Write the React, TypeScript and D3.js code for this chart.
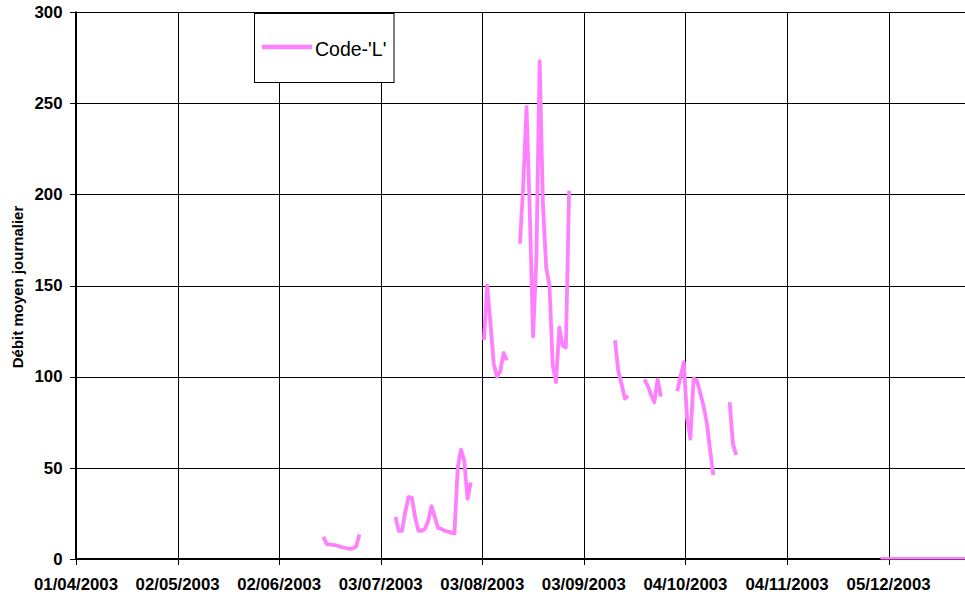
import React from "react";
import * as d3 from "d3";

// ---- Data (daily mean flow, Code-'L') ----
const segmentStarts = [
  "2003-06-15",
  "2003-07-07",
  "2003-08-03",
  "2003-08-14",
  "2003-09-12",
  "2003-09-21",
  "2003-10-01",
  "2003-10-17",
  "2003-12-02",
];
const segJune = [12.2, 8.2, 8, 7.8, 7.4, 6.8, 6.3, 5.9, 5.6, 5.8, 6.8, 13.5];
const segJuly = [23, 15.5, 15.5, 26, 34, 33.5, 23, 15.5, 15.5, 16.5, 21, 29, 23, 17, 16.5, 15.5, 15, 14.5, 14, 50, 60, 54, 33, 42];
const segAugEarly = [120, 150, 129, 107, 100, 103, 113, 109];
const segAugLate = [173, 205, 248, 190, 122, 165, 273, 195, 160, 150, 106, 97, 127, 117, 116, 202];
const segSepA = [120, 103, 96, 88, 89.5];
const segSepB = [98.5, 95, 90, 86, 98.5, 89];
const segOct = [92, 100, 108, 77, 66, 99, 98, 91, 84, 75, 60, 46];
const segOctLate = [86, 63, 57];
const segDec = [0.4, 0.4, 0.4, 0.4, 0.4, 0.4, 0.4, 0.4, 0.4, 0.4, 0.4, 0.4, 0.4, 0.4, 0.4, 0.4, 0.4, 0.4, 0.4, 0.4, 0.4, 0.4, 0.4, 0.4, 0.4, 0.4, 0.4, 0.4, 0.4, 0.4];
const segments = [segJune, segJuly, segAugEarly, segAugLate, segSepA, segSepB, segOct, segOctLate, segDec];

const xTickLabels = [
  "01/04/2003",
  "02/05/2003",
  "02/06/2003",
  "03/07/2003",
  "03/08/2003",
  "03/09/2003",
  "04/10/2003",
  "04/11/2003",
  "05/12/2003",
];
const yTicks = [0, 50, 100, 150, 200, 250, 300];
const seriesName = "Code-'L'";
const yTitle = "Débit moyen journalier";

const W = 965;
const H = 594;
const FONT = "'Liberation Sans', Arial, Helvetica, sans-serif";
const PINK = "#FF80FF";

type P = { date: Date; v: number };

export default function App() {
  const parseISO = d3.utcParse("%Y-%m-%d");
  const parseFR = d3.utcParse("%d/%m/%Y");
  const x0 = 76;
  const pxPerDay = 3.2766;
  const start = parseISO("2003-04-01") as Date;
  const end = parseISO("2004-01-05") as Date;
  const nDays = d3.utcDay.count(start, end);
  const x = d3.scaleUtc().domain([start, end]).range([x0, x0 + nDays * pxPerDay]);
  const y = d3.scaleLinear().domain([0, 300]).range([559, 12]);

  const segData: P[][] = segments.map((vals, i) => {
    const s = parseISO(segmentStarts[i]) as Date;
    return vals.map((v, k) => ({ date: d3.utcDay.offset(s, k), v }));
  });

  const line = d3
    .line<P>()
    .x((p) => x(d3.utcHour.offset(p.date, 12)))
    .y((p) => y(p.v));

  const tickDates = xTickLabels.map((t) => parseFR(t) as Date);
  const xRight = W + 30;

  return (
    <svg
      width={W}
      height={H}
      style={{ position: "absolute", left: 0, top: 0, background: "#fff" }}
    >
      <rect x={0} y={0} width={W} height={H} fill="#fff" />
      {/* horizontal gridlines */}
      {yTicks
        .filter((t) => t > 0)
        .map((t) => (
          <line key={"hg" + t} x1={x0} x2={xRight} y1={Math.round(y(t)) + 0.5} y2={Math.round(y(t)) + 0.5} stroke="#000" strokeWidth={1} />
        ))}
      {/* vertical gridlines */}
      {tickDates.slice(1).map((d, i) => (
        <line key={"vg" + i} x1={Math.round(x(d)) + 0.5} x2={Math.round(x(d)) + 0.5} y1={y(300)} y2={y(0)} stroke="#000" strokeWidth={1} />
      ))}
      {/* axes */}
      <line x1={x0} x2={x0} y1={y(300) - 0.5} y2={y(0) + 1} stroke="#000" strokeWidth={2} />
      <line x1={x0 - 1} x2={xRight} y1={y(0)} y2={y(0)} stroke="#000" strokeWidth={2} />
      {/* y ticks */}
      {yTicks.map((t) => (
        <g key={"yt" + t}>
          <line x1={x0 - 6} x2={x0} y1={Math.round(y(t)) + 0.5} y2={Math.round(y(t)) + 0.5} stroke="#000" strokeWidth={1} />
          <text x={62.5} y={y(t) + 5.8} textAnchor="end" fontFamily={FONT} fontWeight="bold" fontSize={16.8} fill="#000">
            {t}
          </text>
        </g>
      ))}
      {/* x ticks */}
      {tickDates.map((d, i) => (
        <g key={"xt" + i}>
          <line x1={Math.round(x(d)) + 0.5} x2={Math.round(x(d)) + 0.5} y1={y(0)} y2={y(0) + 6} stroke="#000" strokeWidth={1} />
          <text x={x(d)} y={590} textAnchor="middle" fontFamily={FONT} fontWeight="bold" fontSize={16.8} fill="#000">
            {xTickLabels[i]}
          </text>
        </g>
      ))}
      {/* y title */}
      <text
        transform={`translate(23,${287}) rotate(-90)`}
        textAnchor="middle"
        fontFamily={FONT}
        fontWeight="bold"
        fontSize={15}
        fill="#000"
      >
        {yTitle}
      </text>
      {/* data */}
      {segData.map((seg, i) => (
        <path key={"s" + i} d={line(seg) || ""} fill="none" stroke={PINK} strokeWidth={i === segData.length - 1 ? 2.5 : 3.8} strokeLinejoin="round" strokeLinecap="butt" />
      ))}
      {/* legend */}
      <rect x={254.5} y={13.5} width={139.5} height={69} fill="#fff" stroke="#000" strokeWidth={1} />
      <line x1={262} x2={312} y1={47} y2={47} stroke={PINK} strokeWidth={4.5} />
      <text x={315} y={56} fontFamily={FONT} fontSize={19.5} fill="#000">
        {seriesName}
      </text>
    </svg>
  );
}
